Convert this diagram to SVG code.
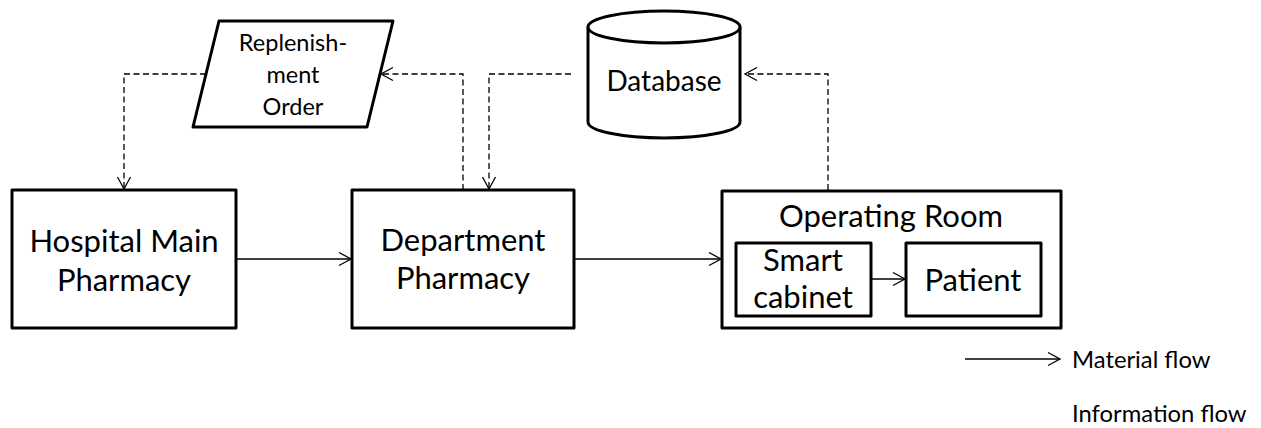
<svg xmlns="http://www.w3.org/2000/svg" width="1261" height="428" viewBox="0 0 1261 428">
  <style>
    .box { fill: #fff; stroke: #000; stroke-width: 3; stroke-linejoin: round; }
    .lbl { font-family: Lato, "Liberation Sans", sans-serif; fill: #000; text-anchor: middle; }
    .big { font-size: 31px; }
    .mid { font-size: 28px; }
    .small { font-size: 23.5px; }
    .legend { font-family: Lato, "Liberation Sans", sans-serif; fill: #000; font-size: 23.8px; }
    .mat { fill: none; stroke: #000; stroke-width: 1.3; marker-end: url(#open); }
    .info { fill: none; stroke: #000; stroke-width: 1.3; stroke-dasharray: 6 3.5; marker-end: url(#open); }
  </style>
  <defs>
    <marker id="open" markerUnits="userSpaceOnUse" markerWidth="16" markerHeight="16" refX="13" refY="8" orient="auto">
      <path d="M1,1.5 L13,8 L1,14.5" fill="none" stroke="#000" stroke-width="1.3"/>
    </marker>
  </defs>

  <rect width="1261" height="428" fill="#fff"/>

  <g id="hospital-main-pharmacy">
    <rect class="box" x="12" y="190" width="224" height="138"/>
    <text class="lbl big" x="124" y="252">Hospital Main</text>
    <text class="lbl big" x="124" y="291">Pharmacy</text>
  </g>

  <g id="department-pharmacy">
    <rect class="box" x="352" y="190" width="222" height="138"/>
    <text class="lbl big" x="463" y="251">Department</text>
    <text class="lbl big" x="463" y="289">Pharmacy</text>
  </g>

  <g id="operating-room">
    <rect class="box" x="722" y="191" width="339" height="137"/>
    <text class="lbl big" x="891" y="227">Operating Room</text>
  </g>

  <g id="smart-cabinet">
    <rect class="box" x="736" y="243" width="135" height="73"/>
    <text class="lbl big" x="803" y="271">Smart</text>
    <text class="lbl big" x="803" y="308">cabinet</text>
  </g>

  <g id="patient">
    <rect class="box" x="906" y="243" width="135" height="73"/>
    <text class="lbl big" x="973" y="291">Patient</text>
  </g>

  <g id="replenishment-order">
    <polygon class="box" points="219,21 393,21 367,127 193,127"/>
    <text class="lbl small" x="293" y="51">Replenish-</text>
    <text class="lbl small" x="293" y="83">ment</text>
    <text class="lbl small" x="293" y="115">Order</text>
  </g>

  <g id="database">
    <path class="box" d="M588,27 V122 A76,16 0 0 0 740,122 V27"/>
    <ellipse class="box" cx="664" cy="27" rx="76" ry="16"/>
    <text class="lbl mid" x="664" y="91">Database</text>
  </g>

  <!-- flows between nodes, drawn over the boxes -->
  <g id="connectors">
    <!-- material flow -->
    <path class="mat" d="M236,259 H351"/>
    <path class="mat" d="M574,259 H721"/>
    <path class="mat" d="M871,279 H905"/>
    <!-- information flow -->
    <path class="info" d="M206,74 H124 V189"/>
    <path class="info" d="M463,190 V74 H381"/>
    <path class="info" d="M571,74 H489 V189"/>
    <path class="info" d="M828,190 V74 H745"/>
  </g>

  <g id="legend">
    <path class="mat" d="M965,359 H1060"/>
    <text class="legend" x="1072" y="368">Material flow</text>
    <text class="legend" x="1072" y="422">Information flow</text>
  </g>
</svg>
